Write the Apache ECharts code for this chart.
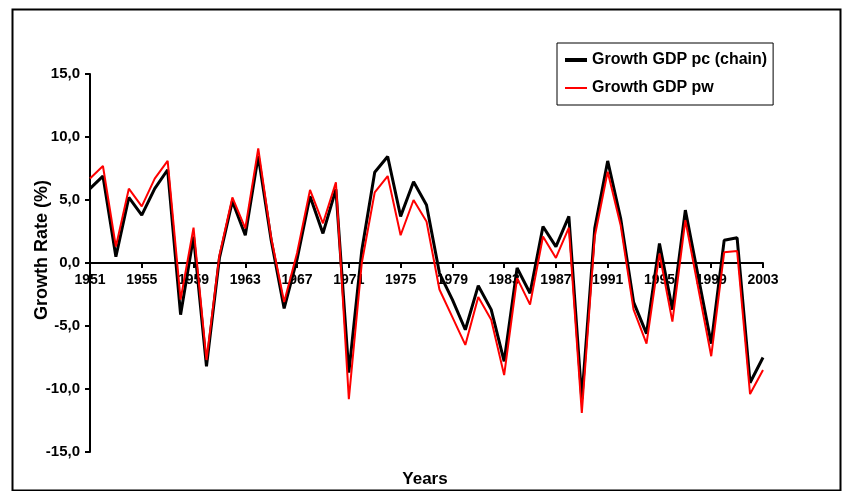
<!DOCTYPE html>
<html>
<head>
<meta charset="utf-8">
<script src="https://cdn.jsdelivr.net/npm/echarts@6/dist/echarts.min.js"></script>
<style>html,body{margin:0;padding:0;background:#fff}#c{width:844px;height:491px}</style>
</head>
<body>
<div id="c"></div>
<script>
var years = ['1951','1952','1953','1954','1955','1956','1957','1958','1959','1960','1961','1962','1963','1964','1965','1966','1967','1968','1969','1970','1971','1972','1973','1974','1975','1976','1977','1978','1979','1980','1981','1982','1983','1984','1985','1986','1987','1988','1989','1990','1991','1992','1993','1994','1995','1996','1997','1998','1999','2000','2001','2002','2003'];
var growthPc = [5.9,6.9,0.5,5.2,3.8,5.9,7.4,-4.1,2.1,-8.2,0.4,4.9,2.2,8.5,1.8,-3.6,0.3,5.3,2.35,5.85,-8.7,1.0,7.2,8.45,3.7,6.45,4.6,-0.8,-2.9,-5.3,-1.8,-3.7,-7.8,-0.4,-2.4,2.9,1.3,3.7,-10.8,2.75,8.1,3.55,-3.1,-5.6,1.55,-3.7,4.2,-1.1,-6.4,1.8,2.0,-9.5,-7.5];
var growthPw = [6.7,7.7,1.3,5.9,4.5,6.7,8.1,-2.9,2.8,-7.7,0.6,5.2,2.75,9.1,2.0,-3.1,0.8,5.8,3.15,6.4,-10.8,0.0,5.6,6.9,2.2,5.0,3.3,-2.1,-4.3,-6.5,-2.7,-4.5,-8.9,-1.2,-3.3,2.1,0.4,2.8,-11.9,2.1,7.25,3.0,-3.7,-6.4,0.75,-4.65,3.4,-2.0,-7.4,0.85,0.95,-10.4,-8.5];
var seriesNames = ['Growth GDP pc (chain)','Growth GDP pw'];

var FONT = '"Liberation Sans", Arial, sans-serif';
var chart = echarts.init(document.getElementById('c'), null, {renderer:'canvas'});
chart.setOption({
  backgroundColor:'#fff',
  animation:false,
  textStyle:{fontFamily:FONT},
  grid:{left:90, right:81, top:74, bottom:39, containLabel:false},
  legend:{
    orient:'vertical', left:557, top:43,
    padding:[9,6,9,6], itemGap:12,
    borderColor:'#000', borderWidth:1,
    itemWidth:22, itemHeight:14,
    itemStyle:{opacity:0},
    textStyle:{fontFamily:FONT, fontWeight:'bold', fontSize:16, color:'#000'},
    data:[
      {name:seriesNames[0], lineStyle:{width:4, color:'#000'}},
      {name:seriesNames[1], lineStyle:{width:2, color:'#ff0000'}}
    ]
  },
  xAxis:{
    type:'category', data:years, boundaryGap:false,
    position:'bottom', offset:-189,
    axisLine:{onZero:false, lineStyle:{color:'#000', width:2}},
    axisTick:{show:true, interval:3, length:5, lineStyle:{color:'#000', width:2}},
    axisLabel:{interval:3, color:'#000', fontWeight:'bold', fontSize:14, fontFamily:FONT, margin:10},
    splitLine:{show:false}
  },
  yAxis:{
    type:'value', min:-15, max:15, interval:5,
    axisLine:{show:true, lineStyle:{color:'#000', width:2}},
    axisTick:{show:true, length:5, lineStyle:{color:'#000', width:2}},
    axisLabel:{color:'#000', fontWeight:'bold', fontSize:15, fontFamily:FONT, margin:10,
      formatter:function(v){return v.toFixed(1).replace('.',',');}},
    splitLine:{show:false}
  },
  series:[
    {name:seriesNames[0], type:'line', data:growthPc, symbol:'none', z:5, lineStyle:{color:'#000', width:3}, itemStyle:{color:'#000'}},
    {name:seriesNames[1], type:'line', data:growthPw, symbol:'none', z:6, lineStyle:{color:'#ff0000', width:2}, itemStyle:{color:'#ff0000'}}
  ],
  graphic:[
    {type:'rect', left:10, top:7, shape:{width:828, height:481}, style:{fill:'none', stroke:'#000', lineWidth:2}, silent:true, z:-1},
    {type:'text', x:425, y:479, style:{text:'Years', fontFamily:FONT, fontWeight:'bold', fontSize:17, fill:'#000', textAlign:'center', textVerticalAlign:'middle'}},
    {type:'text', x:42, y:250, rotation:Math.PI/2, style:{text:'Growth Rate (%)', fontFamily:FONT, fontWeight:'bold', fontSize:18, fill:'#000', textAlign:'center', textVerticalAlign:'middle'}}
  ]
});
</script>
</body>
</html>
